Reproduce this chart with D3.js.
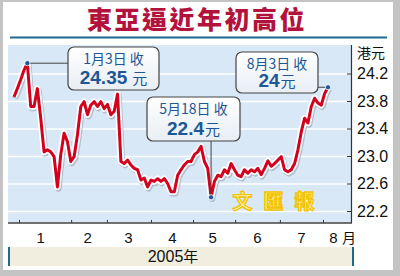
<!DOCTYPE html>
<html>
<head>
<meta charset="utf-8">
<script src="https://cdn.jsdelivr.net/npm/d3@7"></script>
<style>
body { margin: 0; background: #fff; }
#vis { display: block; }
</style>
</head>
<body>
<svg id="vis" width="400" height="276"></svg>
<script>
// BEA share price, close per sample day (HK$)
const closes = [
    23.86, 23.98, 24.11, 24.25, 24.35, 23.72, 23.72, 23.98, 23.55, 23.06,
    23.09, 23.06, 22.99, 22.55, 23.02, 23.33, 23.21, 22.92, 22.99, 23.31,
    23.72, 23.79, 23.60, 23.74, 23.79, 23.72, 23.79, 23.69, 23.75, 23.60,
    23.65, 23.90, 22.92, 22.89, 22.94, 22.87, 22.82, 22.80, 22.65, 22.68,
    22.55, 22.65, 22.63, 22.67, 22.63, 22.67, 22.60, 22.48, 22.48, 22.72,
    22.80, 22.87, 22.92, 22.92, 23.02, 23.06, 23.14, 22.92, 22.82, 22.40,
    22.63, 22.72, 22.70, 22.80, 22.75, 22.89, 22.80, 22.72, 22.70, 22.80,
    22.75, 22.80, 22.77, 22.82, 22.73, 22.82, 22.93, 22.85, 22.89, 22.94,
    22.99, 22.80, 22.77, 22.80, 22.89, 23.09, 23.35, 23.55, 23.48, 23.72,
    23.84, 23.77, 23.74, 23.91, 24.00
];

const yTicks = [22.2, 22.6, 23.0, 23.4, 23.8, 24.2];
const monthTicks = [1.5, 17.1, 27.8, 41.0, 53.6, 66.2, 79.6, 92.5];
const monthLabels = ['1', '2', '3', '4', '5', '6', '7', '8'];
const monthLabelPos = [7.8, 21.9, 34.1, 47.3, 59.3, 72.7, 85.9, 95.5];

// annotated closes: index into closes, first line, value, unit
const noteIndex = [4, 59, 94];
const noteDate = ['1月3日 收', '5月18日 收', '8月3日 收'];
const noteValue = ['24.35', '22.4', '24'];
const noteUnit = ['元', '元', '元'];

const svg = d3.select('#vis');
const WIDTH = 400;
const HEIGHT = 276;
const PLOT = {left: 8, right: 351, top: 45, bottom: 223};
const NUM_FONT = '"Liberation Sans", Arial, sans-serif';
const CJK_FONT = '"Noto Sans CJK TC", "Noto Sans CJK SC", sans-serif';

var x = d3.scaleLinear()
    .domain([0, closes.length - 1])
    .range([14, 328]);

var y = d3.scaleLinear()
    .domain([22.2, 24.2])
    .range([211, 73.5]);

// frame
svg.append('rect')
    .attr('width', WIDTH).attr('height', HEIGHT)
    .attr('fill', '#c4c4c4');
svg.append('rect')
    .attr('x', 3).attr('y', 2)
    .attr('width', 390).attr('height', 268)
    .attr('fill', '#fff');

// title
svg.append('text')
    .attr('x', 197).attr('y', 29)
    .attr('text-anchor', 'middle')
    .attr('font-family', CJK_FONT)
    .attr('font-weight', 900)
    .attr('font-size', 25)
    .attr('letter-spacing', 2.5)
    .attr('fill', '#b3123d')
    .text('東亞逼近年初高位');

svg.append('line')
    .attr('x1', 10).attr('x2', 387)
    .attr('y1', 37.5).attr('y2', 37.5)
    .attr('stroke', '#1b6b8e')
    .attr('stroke-width', 2);

// plot background
svg.append('rect')
    .attr('x', PLOT.left).attr('y', PLOT.top)
    .attr('width', PLOT.right - PLOT.left)
    .attr('height', PLOT.bottom - PLOT.top)
    .attr('fill', '#d9e8f6');

// grid
svg.append('g')
    .attr('transform', 'translate(' + PLOT.right + ',0)')
    .call(d3.axisRight(y).tickValues(yTicks)
        .tickSize(-(PLOT.right - PLOT.left)).tickFormat(''))
    .call(function (g) {
        g.select('.domain').remove();
        g.selectAll('line').attr('stroke', '#fff').attr('stroke-width', 1.6);
    });

// right axis
svg.append('g')
    .attr('transform', 'translate(' + PLOT.right + ',0)')
    .call(d3.axisRight(y).tickValues(yTicks)
        .tickSizeInner(-4).tickSizeOuter(0).tickPadding(6)
        .tickFormat(d3.format('.1f')))
    .call(function (g) {
        g.select('.domain').remove();
        g.selectAll('line').attr('stroke', '#333');
        g.selectAll('text')
            .attr('font-family', NUM_FONT)
            .attr('font-size', 16)
            .attr('fill', '#111');
    });

svg.append('line')
    .attr('x1', PLOT.right + 0.5).attr('x2', PLOT.right + 0.5)
    .attr('y1', PLOT.top).attr('y2', PLOT.bottom)
    .attr('stroke', '#333').attr('stroke-width', 1.2);

svg.append('text')
    .attr('x', 357).attr('y', 58)
    .attr('font-family', CJK_FONT)
    .attr('font-size', 14)
    .attr('fill', '#111')
    .text('港元');

// bottom axis
svg.append('g')
    .attr('transform', 'translate(0,' + PLOT.bottom + ')')
    .call(d3.axisBottom(x).tickValues(monthTicks)
        .tickSizeInner(-3).tickSizeOuter(0).tickFormat(''))
    .call(function (g) {
        g.select('.domain').remove();
        g.selectAll('line').attr('stroke', '#333');
    });

svg.append('line')
    .attr('x1', PLOT.left).attr('x2', PLOT.right + 1)
    .attr('y1', PLOT.bottom).attr('y2', PLOT.bottom)
    .attr('stroke', '#444').attr('stroke-width', 1.5);

svg.append('g')
    .attr('transform', 'translate(0,' + PLOT.bottom + ')')
    .call(d3.axisBottom(x).tickValues(monthLabelPos)
        .tickSize(0).tickPadding(9)
        .tickFormat(function (d, i) { return monthLabels[i]; }))
    .call(function (g) {
        g.select('.domain').remove();
        g.selectAll('text')
            .attr('font-family', NUM_FONT)
            .attr('font-size', 15)
            .attr('fill', '#111');
    });

svg.append('text')
    .attr('x', x(monthLabelPos[7]) + 9).attr('y', 243)
    .attr('font-family', CJK_FONT)
    .attr('font-size', 14)
    .attr('fill', '#111')
    .text('月');

// year band
svg.append('rect')
    .attr('x', 8).attr('y', 247)
    .attr('width', 345).attr('height', 19)
    .attr('fill', '#f1eee0');
svg.append('rect')
    .attr('x', 8).attr('y', 247)
    .attr('width', 2).attr('height', 19)
    .attr('fill', '#1b6b8e');
svg.append('rect')
    .attr('x', 352).attr('y', 247)
    .attr('width', 2).attr('height', 19)
    .attr('fill', '#1b6b8e');
svg.append('text')
    .attr('x', 173).attr('y', 262)
    .attr('text-anchor', 'middle')
    .attr('font-family', NUM_FONT)
    .attr('font-size', 16)
    .attr('fill', '#111')
    .text('2005')
    .append('tspan')
    .attr('font-family', CJK_FONT)
    .attr('font-size', 15)
    .text('年');

// watermark
svg.append('text')
    .attr('x', 279).attr('y', 209)
    .attr('text-anchor', 'middle')
    .attr('font-family', CJK_FONT)
    .attr('font-weight', 700)
    .attr('font-size', 20)
    .attr('letter-spacing', 11)
    .attr('fill', '#fff6b0')
    .attr('stroke', '#f2c200')
    .attr('stroke-width', 1.3)
    .text('文匯報');

// price line
var line = d3.line()
    .x(function (d, i) { return x(i); })
    .y(function (d) { return y(d); });

svg.append('path')
    .datum(closes)
    .attr('d', line)
    .attr('transform', 'translate(1,1.5)')
    .attr('fill', 'none')
    .attr('stroke', '#7f8a96')
    .attr('stroke-opacity', 0.45)
    .attr('stroke-width', 6.5)
    .attr('stroke-linejoin', 'round');

svg.append('path')
    .datum(closes)
    .attr('d', line)
    .attr('fill', 'none')
    .attr('stroke', '#fff')
    .attr('stroke-width', 6.5)
    .attr('stroke-linejoin', 'round');

svg.append('path')
    .datum(closes)
    .attr('d', line)
    .attr('fill', 'none')
    .attr('stroke', '#d3001e')
    .attr('stroke-width', 3)
    .attr('stroke-linejoin', 'round');

// callouts
var boxes = [
    {x: 68, y: 47, w: 91, h: 43, lx: 68, ly: null, gap: 5},
    {x: 147, y: 97, w: 93, h: 44, lx: null, ly: 141, gap: 1},
    {x: 236, y: 52, w: 82, h: 41, lx: 318, ly: null, gap: 1}
];

var grad = svg.append('defs').append('linearGradient')
    .attr('id', 'boxFill').attr('x1', 0).attr('y1', 0).attr('x2', 0).attr('y2', 1);
grad.append('stop').attr('offset', 0).attr('stop-color', '#ffffff');
grad.append('stop').attr('offset', 1).attr('stop-color', '#e8eef4');

noteIndex.forEach(function (idx, i) {
    var b = boxes[i];
    var px = x(idx), py = y(closes[idx]);

    // leader
    var lead = svg.append('line')
        .attr('stroke', '#444').attr('stroke-width', 1);
    if (b.lx !== null) {
        lead.attr('x1', px).attr('y1', py).attr('x2', b.lx).attr('y2', py);
    } else {
        lead.attr('x1', px).attr('y1', py).attr('x2', px).attr('y2', b.ly);
    }

    svg.append('rect')
        .attr('x', b.x).attr('y', b.y)
        .attr('width', b.w).attr('height', b.h)
        .attr('rx', 6)
        .attr('fill', 'url(#boxFill)')
        .attr('stroke', '#444')
        .attr('stroke-width', 1.2);

    svg.append('text')
        .attr('x', b.x + b.w / 2).attr('y', b.y + 17)
        .attr('text-anchor', 'middle')
        .attr('font-family', CJK_FONT)
        .attr('font-size', 14)
        .attr('fill', '#1d5796')
        .text(noteDate[i]);

    var t = svg.append('text')
        .attr('x', b.x + b.w / 2).attr('y', b.y + b.h - 6)
        .attr('text-anchor', 'middle')
        .attr('fill', '#1d5796');
    t.append('tspan')
        .attr('font-family', NUM_FONT)
        .attr('font-weight', 700)
        .attr('font-size', 19)
        .text(noteValue[i]);
    t.append('tspan')
        .attr('dx', b.gap)
        .attr('font-family', CJK_FONT)
        .attr('font-size', 15)
        .text(noteUnit[i]);

    svg.append('circle')
        .attr('cx', px).attr('cy', py)
        .attr('r', 2.6)
        .attr('fill', '#1d5796')
        .attr('stroke', '#fff')
        .attr('stroke-width', 0.8);
});
</script>
</body>
</html>
